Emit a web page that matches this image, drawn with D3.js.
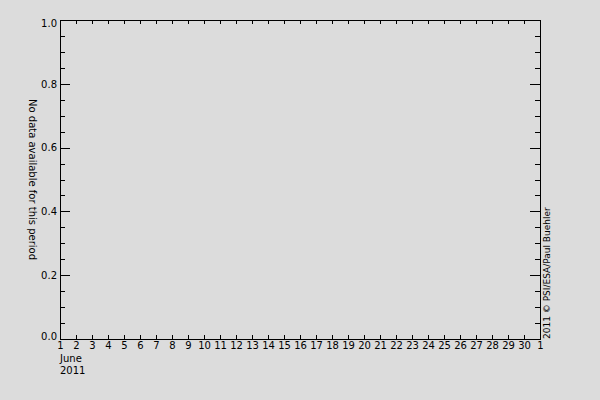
<!DOCTYPE html>
<html>
<head>
<meta charset="utf-8">
<script src="https://cdn.jsdelivr.net/npm/d3@7"></script>
<style>
  body { margin: 0; background: #dcdcdc; }
  text { font-family: "DejaVu Sans", sans-serif; font-size: 10px; fill: #000; }
</style>
</head>
<body>
<script>
// chart values
var startDate = new Date(Date.UTC(2011, 5, 1))
var endDate = new Date(Date.UTC(2011, 6, 1))
var yDomain = [0, 1]
var yMajor = [0, 0.2, 0.4, 0.6, 0.8, 1.0]
var yMinor = [0.05, 0.1, 0.15, 0.25, 0.3, 0.35, 0.45, 0.5, 0.55, 0.65, 0.7, 0.75, 0.85, 0.9, 0.95]
var monthLabel = ["June", "2011"]
var yTitle = "No data available for this period"
var credit = "2011 \u00a9 PSI/ESA/Paul Buehler"

svg_w = 600
svg_h = 400
var m = {left: 60, right: 60, top: 20, bottom: 61}

var svg = d3.select("body")
        .append("svg")
        .attr("width", svg_w)
        .attr("height", svg_h)
        .style("display", "block")

svg.append("rect").attr("width", svg_w).attr("height", svg_h).attr("fill", "#dcdcdc")

var xscale = d3.scaleUtc().domain([startDate, endDate]).range([m.left, svg_w - m.right])
var yscale = d3.scaleLinear().domain(yDomain).range([svg_h - m.bottom, m.top])

var days = d3.utcDay.range(startDate, d3.utcDay.offset(endDate, 1))

function style(g) {
    g.selectAll("path, line").attr("stroke", "#000").attr("stroke-width", 1)
        .attr("shape-rendering", "crispEdges")
    g.selectAll("text").attr("font-family", "DejaVu Sans").attr("font-size", 10)
}

// bottom axis, ticks pointing inward
svg.append("g")
    .attr("transform", "translate(0," + yscale(0) + ")")
    .call(d3.axisBottom(xscale).tickValues(days).tickSizeInner(-4).tickSizeOuter(0)
        .tickPadding(3).tickFormat(d3.utcFormat("%-d")))
    .call(style)

// top axis
svg.append("g")
    .attr("transform", "translate(0," + yscale(1) + ")")
    .call(d3.axisTop(xscale).tickValues(days).tickSizeInner(-4).tickSizeOuter(0).tickFormat(""))
    .call(style)

// left axis major + minor
var yAxisG = svg.append("g")
    .attr("transform", "translate(" + m.left + ",0)")
    .call(d3.axisLeft(yscale).tickValues(yMajor).tickSizeInner(-10).tickSizeOuter(0)
        .tickPadding(3).tickFormat(d3.format(".1f")))
    .call(style)
// end labels sit inside the frame like the original
yAxisG.selectAll(".tick text")
    .attr("y", d => d == 0 ? -3 : (d == 1 ? 3 : 0))
svg.append("g")
    .attr("transform", "translate(" + m.left + ",0)")
    .call(d3.axisLeft(yscale).tickValues(yMinor).tickSizeInner(-5).tickSizeOuter(0).tickFormat(""))
    .call(style)

// right axis major + minor
svg.append("g")
    .attr("transform", "translate(" + (svg_w - m.right) + ",0)")
    .call(d3.axisRight(yscale).tickValues(yMajor).tickSizeInner(-10).tickSizeOuter(0).tickFormat(""))
    .call(style)
svg.append("g")
    .attr("transform", "translate(" + (svg_w - m.right) + ",0)")
    .call(d3.axisRight(yscale).tickValues(yMinor).tickSizeInner(-5).tickSizeOuter(0).tickFormat(""))
    .call(style)

// month / year under the first day
svg.selectAll("text.month")
    .data(monthLabel)
    .enter()
    .append("text")
    .attr("class", "month")
    .attr("x", xscale(startDate))
    .attr("y", (d, i) => yscale(0) + 23 + i * 12)
    .text(d => d)

// y title, reading top to bottom
svg.append("text")
    .attr("transform", "translate(29," + ((yscale(0) + yscale(1)) / 2) + ") rotate(90)")
    .attr("text-anchor", "middle")
    .text(yTitle)

// credit, reading bottom to top
svg.append("text")
    .attr("transform", "translate(550," + yscale(0) + ") rotate(-90)")
    .attr("text-anchor", "start")
    .style("font-size", "9px")
    .text(credit)
</script>
</body>
</html>
